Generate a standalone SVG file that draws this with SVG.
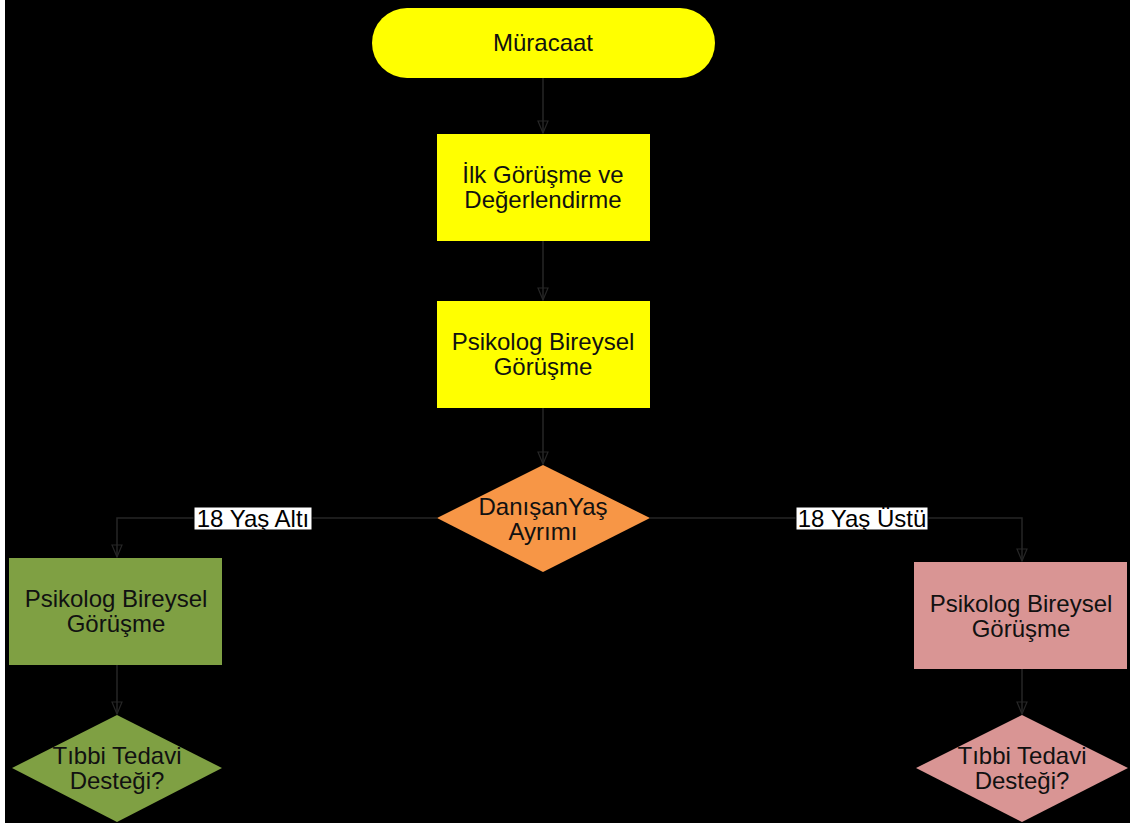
<svg xmlns="http://www.w3.org/2000/svg" width="1130" height="823" viewBox="0 0 1130 823">
<defs>
<style>
.t{font-family:"Liberation Sans",Arial,sans-serif;font-size:24px;fill:#111;text-anchor:middle;dominant-baseline:central}
.c{fill:none;stroke:#262626;stroke-width:1.5}
.lbl{fill:#fff;stroke:#000;stroke-width:1}
</style>
<marker id="arr" markerWidth="14" markerHeight="12" refX="13" refY="6" orient="auto" markerUnits="userSpaceOnUse">
<path d="M1,1 L13,6 L1,11 Z" fill="none" stroke="#262626" stroke-width="1.2"/>
</marker>
</defs>
<rect x="0" y="0" width="1130" height="823" fill="#000"/>
<rect x="0" y="0" width="5" height="823" fill="#fff"/>
<g id="connectors">
<path class="c" d="M543,78 V133" marker-end="url(#arr)"/>
<path class="c" d="M543,241 V300" marker-end="url(#arr)"/>
<path class="c" d="M543,408 V464" marker-end="url(#arr)"/>
<path class="c" d="M437,518 H117 V557" marker-end="url(#arr)"/>
<path class="c" d="M650,518 H1022 V561" marker-end="url(#arr)"/>
<path class="c" d="M117,665 V714" marker-end="url(#arr)"/>
<path class="c" d="M1022,669 V714" marker-end="url(#arr)"/>
<g id="label-alti">
<rect class="lbl" x="194" y="507" width="118" height="23"/>
<text class="t" x="253" y="518.5" style="fill:#000">18 Yaş Altı</text>
</g>
<g id="label-ustu">
<rect class="lbl" x="796" y="507" width="132" height="23"/>
<text class="t" x="862" y="518.5" style="fill:#000">18 Yaş Üstü</text>
</g>
</g>
<g id="muracaat">
<rect x="372" y="8" width="343" height="70" rx="35" ry="35" fill="#FFFF00"/>
<text class="t" x="543" y="42">Müracaat</text>
</g>
<g id="ilk-gorusme">
<rect x="437" y="134" width="213" height="107" fill="#FFFF00"/>
<text class="t" x="543" y="174">İlk Görüşme ve</text>
<text class="t" x="543" y="199">Değerlendirme</text>
</g>
<g id="psikolog">
<rect x="437" y="301" width="213" height="107" fill="#FFFF00"/>
<text class="t" x="543" y="341">Psikolog Bireysel</text>
<text class="t" x="543" y="366">Görüşme</text>
</g>
<g id="yas-ayrimi">
<polygon points="543,465 650,518 543,572 437,518" fill="#F79646"/>
<text class="t" x="543" y="506">DanışanYaş</text>
<text class="t" x="543" y="531">Ayrımı</text>
</g>
<g id="psikolog-alti">
<rect x="9" y="558" width="213" height="107" fill="#7FA043"/>
<text class="t" x="116" y="598">Psikolog Bireysel</text>
<text class="t" x="116" y="623">Görüşme</text>
</g>
<g id="psikolog-ustu">
<rect x="914" y="562" width="213" height="107" fill="#D99594"/>
<text class="t" x="1021" y="603">Psikolog Bireysel</text>
<text class="t" x="1021" y="628">Görüşme</text>
</g>
<g id="tibbi-alti">
<polygon points="117,715 222,768 117,822 12,768" fill="#7FA043"/>
<text class="t" x="117" y="755">Tıbbi Tedavi</text>
<text class="t" x="117" y="780">Desteği?</text>
</g>
<g id="tibbi-ustu">
<polygon points="1022,715 1128,768 1022,822 916,768" fill="#D99594"/>
<text class="t" x="1022" y="755">Tıbbi Tedavi</text>
<text class="t" x="1022" y="780">Desteği?</text>
</g>
</svg>
